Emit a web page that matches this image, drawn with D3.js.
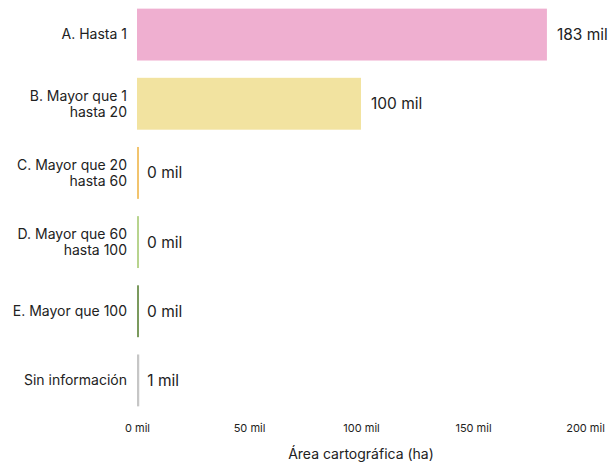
<!DOCTYPE html>
<html>
<head>
<meta charset="utf-8">
<script src="https://cdn.jsdelivr.net/npm/d3@7"></script>
<style>
  html, body { margin: 0; padding: 0; background: #fff; }
  svg { display: block; font-family: Inter, "Noto Sans", sans-serif; }
</style>
</head>
<body>
<svg id="chart" width="613" height="465"></svg>
<script>
// Categories (each label may span several lines)
const categories = [
  ["A. Hasta 1"],
  ["B. Mayor que 1", "hasta 20"],
  ["C. Mayor que 20", "hasta 60"],
  ["D. Mayor que 60", "hasta 100"],
  ["E. Mayor que 100"],
  ["Sin información"]
];
// Cartographic area, thousands of hectares
const values = [183, 100, 0, 0, 0, 1];
const colors = ["#efafd0", "#f2e3a0", "#f2c46e", "#b8d48e", "#7b9a5e", "#c6c6c6"];
const xTicks = [0, 50, 100, 150, 200];
const xTitle = "Área cartográfica (ha)";

const svg = d3.select("#chart");
const x0 = 137, x1 = 585;

const x = d3.scaleLinear().domain([0, 200]).range([x0, x1]);
const y = d3.scaleBand()
  .domain(d3.range(categories.length))
  .range([0, 415])
  .paddingInner(0.25)
  .paddingOuter(0.125);

const minW = 2;
const barW = d => Math.max(minW, x(d) - x(0));

// Bars
svg.append("g").selectAll("rect")
  .data(values)
  .join("rect")
  .attr("x", x(0))
  .attr("y", (d, i) => y(i))
  .attr("width", barW)
  .attr("height", y.bandwidth())
  .attr("fill", (d, i) => colors[i]);

// Value labels
svg.append("g").selectAll("text")
  .data(values)
  .join("text")
  .attr("x", d => x(0) + barW(d) + (d > 50 ? 10 : 8))
  .attr("y", (d, i) => y(i) + y.bandwidth() / 2)
  .attr("dy", "0.35em")
  .attr("font-size", 15.5)
  .attr("fill", "#222")
  .text(d => `${d} mil`);

// Category labels
const lh = 16;
const cat = svg.append("g").selectAll("text")
  .data(categories)
  .join("text")
  .attr("text-anchor", "end")
  .attr("font-size", 14)
  .attr("fill", "#222");

cat.each(function(lines, i) {
  const t = d3.select(this);
  const cy = y(i) + y.bandwidth() / 2;
  const start = cy - (lines.length - 1) * lh / 2;
  lines.forEach((line, j) => {
    t.append("tspan")
      .attr("x", 127)
      .attr("y", start + j * lh)
      .attr("dy", "0.35em")
      .text(line);
  });
});

// X axis (labels only)
const xAxis = svg.append("g")
  .attr("transform", "translate(0,424)")
  .call(d3.axisBottom(x).tickValues(xTicks).tickSize(0).tickPadding(0).tickFormat(d => `${d} mil`));
xAxis.select(".domain").remove();
xAxis.selectAll("text")
  .attr("font-family", "Inter, 'Noto Sans', sans-serif")
  .attr("font-size", 11)
  .attr("fill", "#222");

// Axis title
svg.append("text")
  .attr("x", x(100))
  .attr("y", 459)
  .attr("text-anchor", "middle")
  .attr("font-size", 14)
  .attr("fill", "#222")
  .text(xTitle);
</script>
</body>
</html>
